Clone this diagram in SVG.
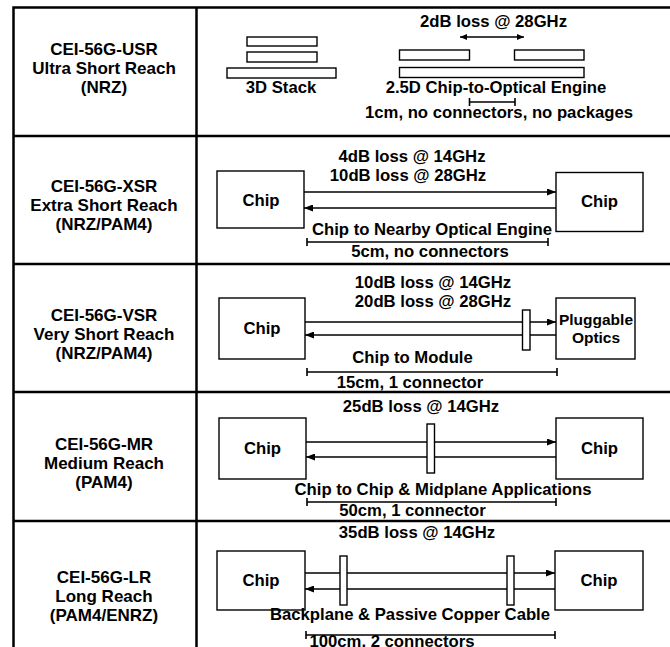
<svg xmlns="http://www.w3.org/2000/svg" width="670" height="647" viewBox="0 0 670 647">
<style>
text{font-family:"Liberation Sans",Arial,sans-serif;font-weight:bold;fill:#000;text-anchor:middle}
.lbl{font-size:17px}
.t{font-size:16.7px}
.ts{font-size:15.5px}
.grid{stroke:#000;stroke-width:2.5;fill:none}
.box{fill:#fff;stroke:#000;stroke-width:1.4}
.ln{stroke:#000;stroke-width:1.6;fill:none}
.dim{stroke:#000;stroke-width:1.6;fill:none}
</style>
<defs>
<marker id="ah" markerUnits="userSpaceOnUse" markerWidth="9" markerHeight="7" refX="9" refY="3.5" orient="auto">
<path d="M0,0 L9,3.5 L0,7 z" fill="#000"/>
</marker>
<marker id="ahs" markerUnits="userSpaceOnUse" markerWidth="7" markerHeight="6" refX="7" refY="3" orient="auto-start-reverse">
<path d="M0,0 L7,3 L0,6 z" fill="#000"/>
</marker>
</defs>

<g id="table">
<path class="grid" d="M13.5,647 V7.5 H670 M196.5,7.5 V647 M13.5,136 H670 M13.5,264 H670 M13.5,392 H670 M13.5,521 H670"/>
</g>

<g id="labels">
<text class="lbl" x="104" y="55">CEI-56G-USR</text>
<text class="lbl" x="104" y="74">Ultra Short Reach</text>
<text class="lbl" x="104" y="93">(NRZ)</text>
<text class="lbl" x="104" y="192">CEI-56G-XSR</text>
<text class="lbl" x="104" y="211">Extra Short Reach</text>
<text class="lbl" x="104" y="230">(NRZ/PAM4)</text>
<text class="lbl" x="104" y="321">CEI-56G-VSR</text>
<text class="lbl" x="104" y="340">Very Short Reach</text>
<text class="lbl" x="104" y="359">(NRZ/PAM4)</text>
<text class="lbl" x="104" y="450">CEI-56G-MR</text>
<text class="lbl" x="104" y="469">Medium Reach</text>
<text class="lbl" x="104" y="488">(PAM4)</text>
<text class="lbl" x="104" y="583">CEI-56G-LR</text>
<text class="lbl" x="104" y="602">Long Reach</text>
<text class="lbl" x="104" y="621">(PAM4/ENRZ)</text>
</g>

<!-- Row 1: USR -->
<g id="usr-stack">
<rect class="box" x="247" y="37" width="70" height="9"/>
<rect class="box" x="247" y="52" width="70" height="10"/>
<rect class="box" x="227" y="68" width="109" height="10"/>
<text class="t" x="281" y="93">3D Stack</text>
</g>
<g id="usr-25d">
<rect class="box" x="399.5" y="50" width="70" height="10"/>
<rect class="box" x="514.5" y="50" width="69.5" height="10"/>
<rect class="box" x="399.5" y="67.5" width="184.5" height="10"/>
<text class="t" x="496" y="93">2.5D Chip-to-Optical Engine</text>
<text class="t" x="493.5" y="27">2dB loss @ 28GHz</text>
<text class="t" x="499" y="118">1cm, no connectors, no packages</text>
</g>

<!-- Row 2: XSR -->
<g id="xsr-chip-l"><rect class="box" x="217" y="171" width="87" height="57"/><text class="t" x="261" y="206">Chip</text></g>
<g id="xsr-chip-r"><rect class="box" x="556" y="172.5" width="87" height="59"/><text class="t" x="599.5" y="207">Chip</text></g>
<g id="xsr-text">
<text class="t" x="412" y="162">4dB loss @ 14GHz</text>
<text class="t" x="408" y="181">10dB loss @ 28GHz</text>
<text class="t" x="432" y="235">Chip to Nearby Optical Engine</text>
<text class="t" x="430" y="257">5cm, no connectors</text>
</g>

<!-- Row 3: VSR -->
<g id="vsr-chip-l"><rect class="box" x="219" y="298" width="86" height="61"/><text class="t" x="262" y="334">Chip</text></g>
<g id="vsr-optics"><rect class="box" x="556" y="298" width="79" height="61"/><text class="ts" x="596" y="325">Pluggable</text><text class="ts" x="596" y="343">Optics</text></g>
<g id="vsr-text">
<text class="t" x="433" y="288">10dB loss @ 14GHz</text>
<text class="t" x="433" y="307">20dB loss @ 28GHz</text>
<text class="t" x="412.5" y="363">Chip to Module</text>
<text class="t" x="410" y="388">15cm, 1 connector</text>
</g>

<!-- Row 4: MR -->
<g id="mr-chip-l"><rect class="box" x="219" y="418" width="87" height="61"/><text class="t" x="262.5" y="454">Chip</text></g>
<g id="mr-chip-r"><rect class="box" x="556" y="418" width="87" height="61"/><text class="t" x="599.5" y="454">Chip</text></g>
<g id="mr-text">
<text class="t" x="421" y="412">25dB loss @ 14GHz</text>
<text class="t" x="443" y="495">Chip to Chip &amp; Midplane Applications</text>
<text class="t" x="412.5" y="516">50cm, 1 connector</text>
</g>

<!-- Row 5: LR -->
<g id="lr-chip-l"><rect class="box" x="217" y="551" width="88" height="59"/><text class="t" x="261" y="586">Chip</text></g>
<g id="lr-chip-r"><rect class="box" x="555" y="551" width="88" height="59"/><text class="t" x="599" y="586">Chip</text></g>
<g id="lr-text">
<text class="t" x="417" y="538">35dB loss @ 14GHz</text>
<text class="t" x="410" y="620">Backplane &amp; Passive Copper Cable</text>
<text class="t" x="392" y="647">100cm, 2 connectors</text>
</g>

<g id="connectors">
<line class="ln" x1="460" y1="37" x2="524" y2="37" stroke-width="1.2" marker-start="url(#ahs)" marker-end="url(#ahs)"/>
<path class="dim" d="M469.5,102 H515 M469.5,98 V106 M515,98 V106"/>

<line class="ln" x1="304" y1="192" x2="556" y2="192" marker-end="url(#ah)"/>
<line class="ln" x1="556" y1="208" x2="304" y2="208" marker-end="url(#ah)"/>
<path class="dim" d="M307,242 H548 M307,238 V246 M548,238 V246"/>

<line class="ln" x1="305" y1="322" x2="556" y2="322" marker-end="url(#ah)"/>
<line class="ln" x1="556" y1="335" x2="305" y2="335" marker-end="url(#ah)"/>
<path class="dim" d="M307,372 H557 M307,368 V376 M557,368 V376"/>

<line class="ln" x1="306" y1="442" x2="556" y2="442" marker-end="url(#ah)"/>
<line class="ln" x1="556" y1="457" x2="306" y2="457" marker-end="url(#ah)"/>
<path class="dim" d="M307,502 H556 M307,498 V506 M556,498 V506"/>

<line class="ln" x1="305" y1="573" x2="555" y2="573" marker-end="url(#ah)"/>
<line class="ln" x1="555" y1="589" x2="305" y2="589" marker-end="url(#ah)"/>
<path class="dim" d="M306,635 H555 M306,631 V639 M555,631 V639"/>
</g>

<g id="plugs">
<rect class="box" x="522.5" y="310" width="7.5" height="40"/>
<rect class="box" x="427" y="424" width="7.5" height="49"/>
<rect class="box" x="340" y="556" width="7" height="49"/>
<rect class="box" x="507" y="556" width="7" height="49"/>
</g>
</svg>
